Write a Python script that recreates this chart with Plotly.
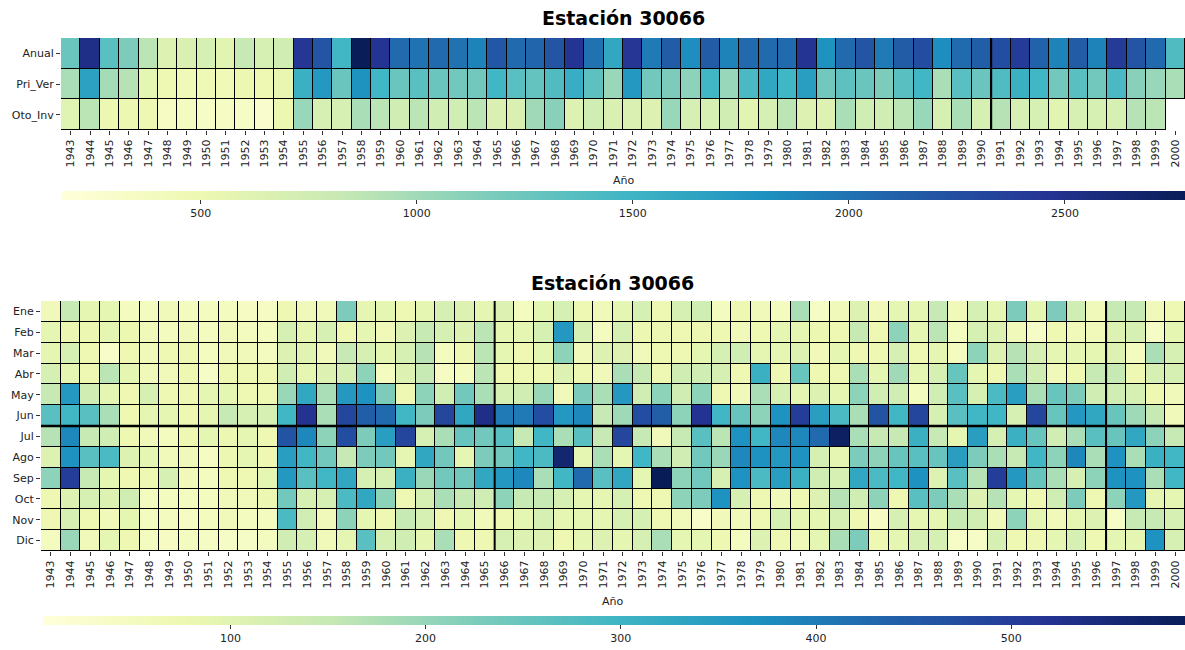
import plotly.graph_objects as go

years = list(range(1943, 2001))
season_rows = ["Anual", "Pri_Ver", "Oto_Inv"]
month_rows = ["Ene", "Feb", "Mar", "Abr", "May", "Jun", "Jul", "Ago", "Sep", "Oct", "Nov", "Dic"]

anual = [1270, 2520, 1350, 1165, 880, 650, 670, 700, 595, 830, 700, 750,
         2440, 2200, 1480, 2770, 2460, 2050, 2000, 2050, 2000, 1895, 2180, 2050, 2075, 2200, 2460,
         2000, 1610, 2440, 1950, 2155, 1820, 2155, 1895, 2050, 2050, 2050, 2460, 1790, 2050, 2200,
         1950, 2155, 2260, 1820, 2050, 2130, 2260, 2390, 2100, 1895, 2155, 1895, 2390, 2200, 2050, 1400]
pri_ver = [960, 1660, 985, 907, 570, 490, 440, 465, 440, 515, 490, 540,
           1530, 1740, 1270, 1790, 1480, 1270, 1350, 1270, 1220, 1220, 1480, 1350, 1295, 1400, 1555,
           1325, 1040, 1740, 1220, 1165, 1090, 1480, 1040, 1430, 1610, 1480, 1690, 1220, 1325, 1270,
           1165, 1350, 1480, 960, 1350, 1270, 1400, 1530, 1480, 1220, 1350, 1220, 1430, 1115, 1040, 960]
oto_inv = [620, 880, 515, 515, 490, 360, 385, 335, 360, 335, 280, 515,
           1040, 700, 700, 960, 880, 750, 880, 750, 750, 880, 670, 670, 1010, 1115, 650,
           750, 670, 670, 650, 1040, 700, 700, 750, 595, 700, 880, 650, 650, 960, 750,
           750, 880, 1040, 700, 960, 700, 907, 700, 700, 595, 700, 700, 700, 907, 880, None]

ene = [63, 150, 92, 92, 51, 51, 63, 51, 51, 51, 45, 45, 74, 63, 63, 226, 92, 92, 74, 92, 121, 109, 92, 109, 51, 92, 121, 74, 63,
       92, 121, 74, 121, 133, 51, 74, 63, 51, 180, 39, 63, 109, 63, 92, 92, 150, 63, 121, 92, 226, 92, 226, 133, 63, 150, 150, 63, 74]
feb = [92, 80, 80, 92, 80, 63, 51, 63, 51, 63, 51, 51, 121, 92, 121, 74, 92, 63, 109, 150, 121, 109, 162, 92, 92, 121, 355, 121, 51,
       121, 80, 80, 74, 80, 74, 63, 74, 92, 92, 80, 74, 150, 74, 209, 92, 162, 51, 121, 109, 63, 39, 74, 63, 63, 109, 121, 39, 92]
mar = [92, 121, 74, 33, 74, 63, 74, 74, 51, 63, 63, 51, 109, 103, 63, 150, 121, 92, 121, 168, 51, 74, 162, 92, 74, 92, 209, 63, 109,
       109, 63, 74, 74, 92, 121, 133, 92, 92, 109, 63, 92, 74, 74, 121, 74, 92, 51, 209, 109, 168, 121, 92, 92, 92, 109, 51, 180, 121]
abr = [121, 92, 74, 162, 92, 63, 63, 74, 39, 74, 74, 74, 133, 92, 109, 121, 209, 51, 109, 150, 45, 51, 162, 74, 74, 74, 109, 74, 63,
       180, 150, 74, 133, 133, 121, 74, 308, 74, 250, 74, 74, 180, 92, 191, 92, 121, 250, 92, 74, 180, 133, 63, 74, 150, 150, 74, 121, 121]
may = [150, 355, 133, 92, 74, 121, 74, 74, 92, 92, 74, 74, 197, 326, 180, 355, 367, 226, 74, 209, 133, 238, 180, 121, 133, 197, 63, 226, 180,
       355, 133, 209, 133, 209, 74, 63, 180, 121, 92, 109, 92, 209, 133, 133, 51, 133, 267, 121, 285, 343, 180, 250, 226, 133, 133, 121, 74, 63]
jun = [267, 297, 267, 180, 74, 92, 92, 74, 92, 150, 121, 121, 297, 519, 180, 484, 443, 425, 297, 226, 484, 326, 531, 402, 402, 472, 355, 384, 150,
       191, 472, 443, 209, 519, 297, 250, 209, 367, 501, 343, 285, 180, 460, 297, 484, 121, 267, 297, 297, 121, 484, 250, 355, 326, 250, 191, 150, 63]
jul = [168, 384, 150, 133, 74, 63, 51, 74, 92, 80, 92, 74, 460, 384, 209, 472, 226, 343, 484, 121, 180, 250, 238, 267, 150, 297, 180, 267, 150,
       484, 150, 63, 150, 267, 162, 367, 297, 384, 384, 425, 577, 180, 150, 150, 308, 150, 92, 343, 121, 308, 250, 133, 180, 267, 250, 326, 209, 150]
ago = [109, 367, 267, 285, 109, 92, 63, 63, 45, 80, 92, 74, 343, 297, 238, 150, 226, 238, 92, 326, 238, 92, 226, 238, 297, 285, 560, 92, 180,
       92, 297, 180, 133, 238, 197, 384, 367, 355, 367, 121, 92, 226, 209, 250, 267, 250, 343, 226, 180, 150, 297, 209, 384, 180, 367, 180, 308, 297]
sep = [209, 501, 150, 92, 74, 74, 121, 63, 51, 74, 74, 92, 355, 267, 297, 326, 121, 121, 308, 197, 238, 238, 326, 355, 384, 180, 297, 425, 267,
       326, 92, 589, 209, 238, 121, 367, 285, 343, 308, 133, 121, 326, 285, 297, 367, 109, 267, 168, 501, 355, 250, 180, 121, 209, 367, 367, 180, 297]
octu = [74, 109, 121, 109, 133, 51, 51, 51, 51, 63, 63, 80, 238, 121, 121, 285, 326, 209, 74, 121, 180, 150, 133, 209, 150, 150, 121, 92, 92,
        121, 74, 74, 209, 226, 367, 121, 74, 63, 74, 109, 168, 133, 209, 74, 267, 226, 180, 109, 168, 92, 74, 133, 226, 74, 209, 355, 92, 92]
nov = [74, 121, 74, 63, 92, 51, 51, 45, 51, 63, 51, 51, 285, 133, 63, 209, 92, 74, 150, 121, 74, 92, 63, 74, 92, 121, 92, 92, 92,
       121, 121, 74, 63, 33, 63, 63, 74, 121, 92, 92, 121, 74, 45, 121, 92, 92, 150, 133, 63, 209, 92, 63, 92, 109, 39, 150, 150, 121]
dic = [51, 197, 63, 92, 74, 51, 45, 51, 45, 39, 39, 51, 133, 121, 63, 92, 267, 121, 133, 92, 180, 74, 74, 121, 109, 109, 74, 92, 109,
       92, 121, 180, 92, 92, 74, 51, 109, 74, 63, 92, 180, 226, 74, 92, 121, 121, 39, 39, 121, 74, 74, 92, 121, 74, 92, 92, 367, 121]

season_ticks = [500, 1000, 1500, 2000, 2500]
month_ticks = [100, 200, 300, 400, 500]
season_range = [179, 2778]
month_range = [4, 589]

ylgnbu = [[0.0, "rgb(255,255,217)"], [0.125, "rgb(237,248,177)"], [0.25, "rgb(199,233,180)"],
          [0.375, "rgb(127,205,187)"], [0.5, "rgb(65,182,196)"], [0.625, "rgb(29,145,192)"],
          [0.75, "rgb(34,94,168)"], [0.875, "rgb(37,52,148)"], [1.0, "rgb(8,29,88)"]]
black = [[0, "black"], [1, "black"]]

W, H = 1185, 650
FONT = "DejaVu Sans"

z_top = [anual, pri_ver, oto_inv]
z_bot = [ene, feb, mar, abr, may, jun, jul, ago, sep, octu, nov, dic]


def mask(z):
    return [[None if v is None else 0 for v in row] for row in z]


top_dom_x = [61 / W, 1.0]
top_dom_y = [1 - 130 / H, 1 - 38 / H]
bot_dom_x = [41 / W, 1.0]
bot_dom_y = [1 - 551 / H, 1 - 301 / H]

fig = go.Figure()

# border layer (black) then data bricks with gaps
fig.add_trace(go.Heatmap(x=years, y=season_rows, z=mask(z_top), colorscale=black, showscale=False,
                         hoverinfo="skip", xaxis="x", yaxis="y"))
fig.add_trace(go.Heatmap(
    x=years, y=season_rows, z=z_top, colorscale=ylgnbu, zmin=season_range[0], zmax=season_range[1],
    xgap=1, ygap=1, xaxis="x", yaxis="y",
    colorbar=dict(orientation="h", x=(62 / W + 1) / 2, xanchor="center", y=1 - 191 / H, yanchor="top",
                  len=(W - 62) / W, lenmode="fraction", thickness=9, outlinewidth=0,
                  tickvals=season_ticks, ticks="outside", ticklen=4, tickcolor="#333",
                  tickfont=dict(family=FONT, size=11, color="#222"), xpad=0, ypad=0)))

fig.add_trace(go.Heatmap(x=years, y=month_rows, z=mask(z_bot), colorscale=black, showscale=False,
                         hoverinfo="skip", xaxis="x2", yaxis="y2"))
fig.add_trace(go.Heatmap(
    x=years, y=month_rows, z=z_bot, colorscale=ylgnbu, zmin=month_range[0], zmax=month_range[1],
    xgap=1, ygap=1, xaxis="x2", yaxis="y2",
    colorbar=dict(orientation="h", x=(43 / W + 1) / 2, xanchor="center", y=1 - 616 / H, yanchor="top",
                  len=(W - 43) / W, lenmode="fraction", thickness=9, outlinewidth=0,
                  tickvals=month_ticks, ticks="outside", ticklen=4, tickcolor="#333",
                  tickfont=dict(family=FONT, size=11, color="#222"), xpad=0, ypad=0)))

xcommon = dict(tickmode="array", tickvals=years, ticktext=[str(y) for y in years], tickangle=-90,
               ticks="outside", ticklen=4, tickcolor="#333", showgrid=False, zeroline=False,
               range=[years[0] - 0.5, years[-1] + 0.5], tickfont=dict(family=FONT, size=11, color="#222"))
ycommon = dict(autorange="reversed", ticks="outside", ticklen=4, tickcolor="#333", showgrid=False,
               zeroline=False, tickfont=dict(family=FONT, size=11, color="#222"))

fig.update_layout(
    width=W, height=H, margin=dict(l=0, r=0, t=0, b=0),
    paper_bgcolor="white", plot_bgcolor="white", font=dict(family=FONT, color="#222"),
    xaxis=dict(domain=top_dom_x, anchor="y", **xcommon),
    yaxis=dict(domain=top_dom_y, anchor="x", **ycommon),
    xaxis2=dict(domain=bot_dom_x, anchor="y2", **xcommon),
    yaxis2=dict(domain=bot_dom_y, anchor="x2", **ycommon),
)

# thicker separators visible in the reference
shapes = [
    dict(type="line", xref="x", yref="y domain", x0=1990.5, x1=1990.5, y0=0, y1=1,
         line=dict(color="black", width=2)),
    dict(type="line", xref="x2", yref="y2 domain", x0=1965.5, x1=1965.5, y0=0, y1=1,
         line=dict(color="black", width=2)),
    dict(type="line", xref="x2", yref="y2 domain", x0=1996.5, x1=1996.5, y0=0, y1=1,
         line=dict(color="black", width=2)),
    dict(type="line", xref="x2 domain", yref="y2", x0=0, x1=1, y0=5.5, y1=5.5,
         line=dict(color="black", width=2.5)),
]
fig.update_layout(shapes=shapes)

annotations = [
    dict(text="<b>Estación 30066</b>", x=sum(top_dom_x) / 2, y=1 - 18 / H, xref="paper", yref="paper",
         showarrow=False, font=dict(family=FONT, size=19, color="black"), xanchor="center", yanchor="middle"),
    dict(text="<b>Estación 30066</b>", x=sum(bot_dom_x) / 2, y=1 - 283 / H, xref="paper", yref="paper",
         showarrow=False, font=dict(family=FONT, size=19, color="black"), xanchor="center", yanchor="middle"),
    dict(text="Año", x=sum(top_dom_x) / 2, y=1 - 180 / H, xref="paper", yref="paper", showarrow=False,
         font=dict(family=FONT, size=11, color="#222"), xanchor="center", yanchor="middle"),
    dict(text="Año", x=sum(bot_dom_x) / 2, y=1 - 601 / H, xref="paper", yref="paper", showarrow=False,
         font=dict(family=FONT, size=11, color="#222"), xanchor="center", yanchor="middle"),
]
fig.update_layout(annotations=annotations)

fig.write_html("out.html")
